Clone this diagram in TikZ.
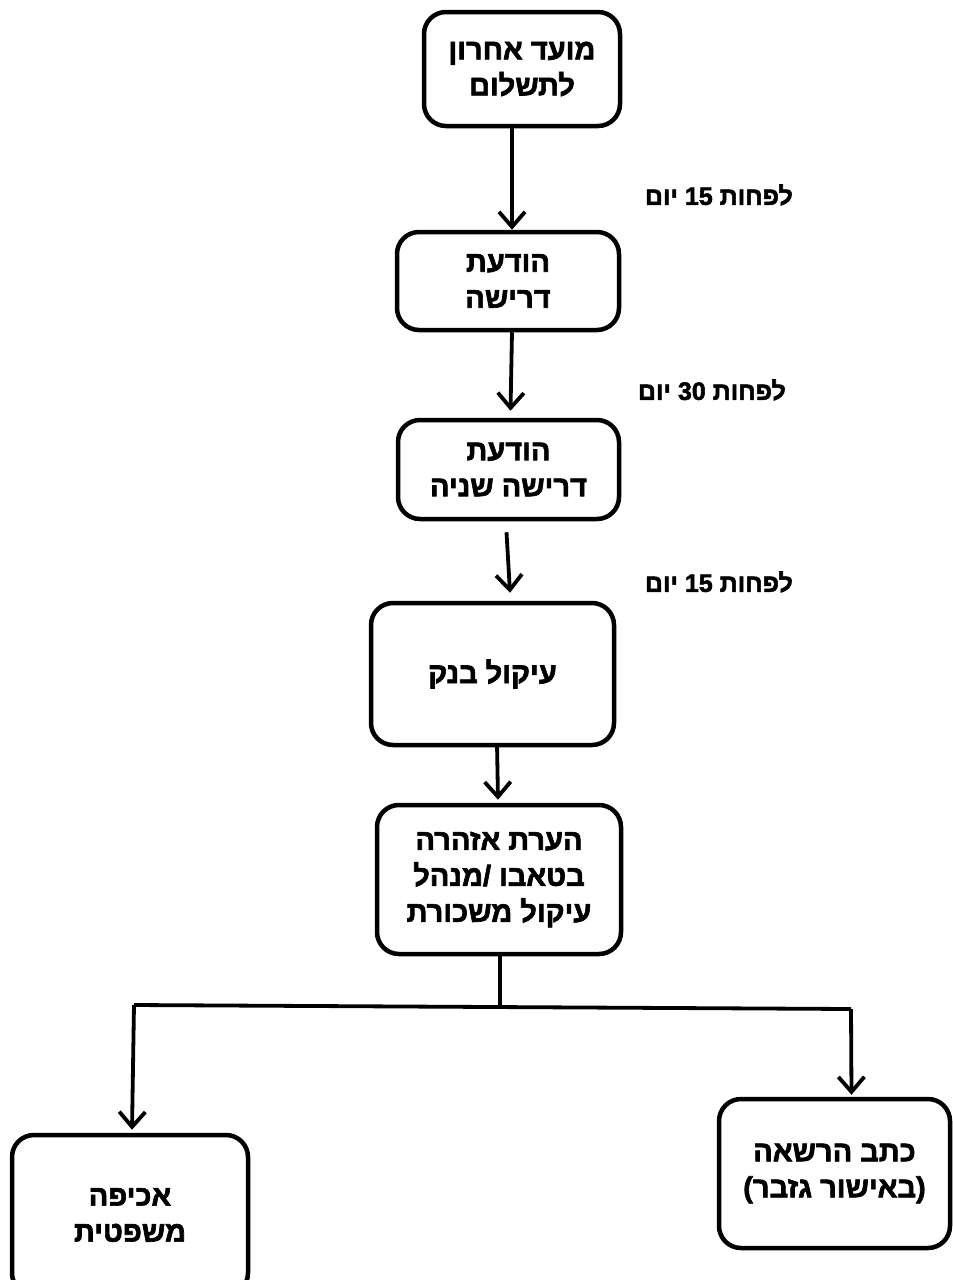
\documentclass[tikz,border=0pt]{standalone}
\usepackage{fontspec}
\newfontfamily\hb[Script=Hebrew, FakeBold=2.2]{Liberation Sans Bold}
\TeXXeTstate=1
\usetikzlibrary{arrows.meta}
\newcommand{\RL}[1]{\beginR #1\endR}
\begin{document}
\begin{tikzpicture}[x=1pt,y=-1pt,
  box/.style={draw, line width=4.5pt, rounded corners=22pt, align=center,
    font=\hb\fontsize{29}{36}\selectfont, inner sep=0pt},
  arr/.style={line width=3.8pt, -{Straight Barb[length=15pt,width=26pt,line width=3.8pt]}},
  plain/.style={line width=3.8pt},
  lbl/.style={font=\hb\fontsize{25}{28}\selectfont, anchor=east, inner sep=0pt}]
\useasboundingbox (0,0) rectangle (953,1280);
\clip (0,0) rectangle (953,1280);
\fill[white] (0,0) rectangle (953,1280);

\node[box, minimum width=196, minimum height=114] (b1) at (522,69) {\RL{מועד אחרון}\\\RL{לתשלום}};
\node[box, minimum width=222, minimum height=98] (b2) at (508,281) {\RL{הודעת}\\\RL{דרישה}};
\node[box, minimum width=221, minimum height=99] (b3) at (508.5,469.5) {\RL{הודעת}\\\RL{דרישה שניה}};
\node[box, minimum width=243, minimum height=142] (b4) at (492.5,674) {\RL{עיקול בנק}};
\node[box, minimum width=244, minimum height=149] (b5) at (499,879.5) {\RL{הערת אזהרה}\\\RL{בטאבו /מנהל}\\\RL{עיקול משכורת}};
\node[box, minimum width=236, minimum height=160] (b6) at (130,1215) {\RL{אכיפה}\\\RL{משפטית}};
\node[box, minimum width=231, minimum height=149] (b7) at (834.5,1173.5) {\RL{כתב הרשאה}\\\RL{(באישור גזבר)}};

\node[lbl] (l1) at (793,195) {\RL{לפחות 15 יום}};
\node[lbl] (l2) at (786,390) {\RL{לפחות 30 יום}};
\node[lbl] (l3) at (793,582) {\RL{לפחות 15 יום}};

\coordinate (j0) at (500,1005);
\coordinate (jl) at (134,1005);
\coordinate (jr) at (851,1009);

\draw[arr] ([xshift=-10pt]b1.south) -- ([xshift=4pt]b2.north);
\draw[arr] ([xshift=4pt]b2.south) -- ([xshift=2pt,yshift=7pt]b3.north);
\draw[arr] ([xshift=-2pt,yshift=-11pt]b3.south) -- ([xshift=17.5pt,yshift=8pt]b4.north);
\draw[arr] ([xshift=4.5pt,yshift=4pt]b4.south) -- ([xshift=-1pt,yshift=3pt]b5.north);
\draw[plain] ([xshift=1pt]b5.south) -- (j0);
\draw[plain] (jl) -- (jr);
\draw[arr] (jl) -- ([xshift=2pt,yshift=3pt]b6.north);
\draw[arr] (jr) -- ([xshift=17pt,yshift=2pt]b7.north);
\end{tikzpicture}
\end{document}
